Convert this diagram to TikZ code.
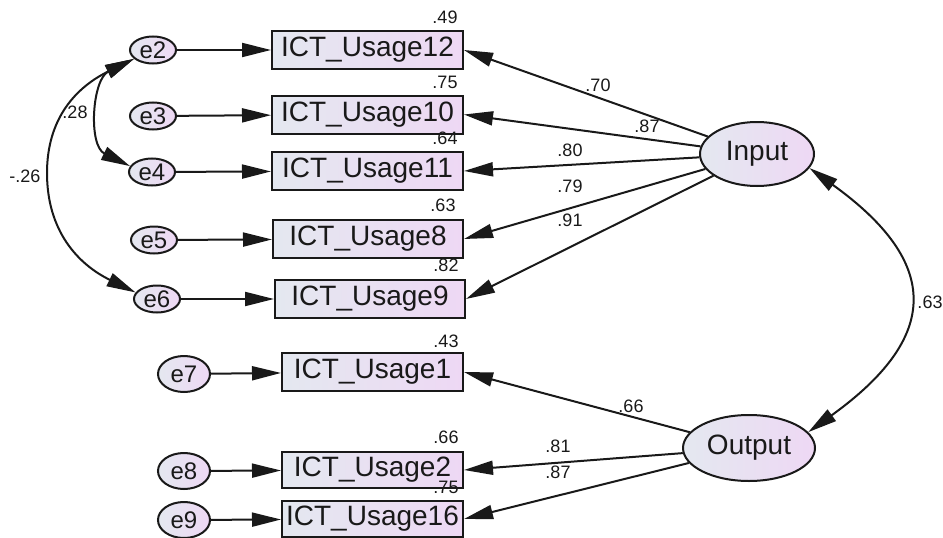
\documentclass[tikz,border=0pt]{standalone}
\usepackage{fontspec}
\setmainfont{Liberation Sans}
\usetikzlibrary{arrows.meta,shapes.geometric}

\definecolor{fillL}{RGB}{228,232,240}
\definecolor{fillR}{RGB}{238,216,244}
\definecolor{ink}{RGB}{25,25,25}

\begin{document}
\begin{tikzpicture}[x=1pt,y=-1pt,
  every node/.style={text=ink},
  obs/.style={draw=ink, line width=2pt, left color=fillL, right color=fillR,
    minimum height=38pt, inner sep=0pt, font=\fontsize{28}{30}\selectfont},
  err/.style={ellipse, draw=ink, line width=2pt, left color=fillL, right color=fillR,
    minimum width=46pt, minimum height=27pt, inner sep=0pt, font=\fontsize{24}{26}\selectfont},
  errbig/.style={err, minimum width=52pt, minimum height=36pt},
  lat/.style={ellipse, draw=ink, line width=2pt, left color=fillL, right color=fillR,
    inner sep=0pt, font=\fontsize{28}{30}\selectfont},
  reg/.style={line width=2pt, draw=ink, -{Triangle[length=29pt,width=14pt]}},
  cov/.style={line width=2pt, draw=ink,
    {Triangle[length=29pt,width=14pt]}-{Triangle[length=29pt,width=14pt]}},
  val/.style={font=\fontsize{18}{20}\selectfont, inner sep=0pt}
]
\useasboundingbox (0,0) rectangle (943,538);

% observed indicators
\node[obs, minimum width=191pt] (u12) at (367.5,50) {ICT\_Usage12};
\node[obs, minimum width=191pt] (u10) at (367.5,114.5) {ICT\_Usage10};
\node[obs, minimum width=191pt] (u11) at (367.5,171) {ICT\_Usage11};
\node[obs, minimum width=190pt] (u8)  at (368,239) {ICT\_Usage8};
\node[obs, minimum width=190pt] (u9)  at (370,299) {ICT\_Usage9};
\node[obs, minimum width=181pt] (u1)  at (372.5,372) {ICT\_Usage1};
\node[obs, minimum width=181pt, minimum height=36pt] (u2)  at (372.5,470) {ICT\_Usage2};
\node[obs, minimum width=181pt, minimum height=36pt] (u16) at (372.5,519) {ICT\_Usage16};

% error terms
\node[err] (e2) at (153,50) {e2};
\node[err] (e3) at (153,116) {e3};
\node[err] (e4) at (152,172) {e4};
\node[err] (e5) at (154,240) {e5};
\node[err] (e6) at (157,299) {e6};
\node[errbig] (e7) at (184,374) {e7};
\node[errbig] (e8) at (184,471) {e8};
\node[errbig] (e9) at (184,520) {e9};

% latent factors
\node[lat, minimum width=114pt, minimum height=64pt] (Input) at (757,154) {Input};
\node[lat, minimum width=132pt, minimum height=66pt] (Output) at (749,448) {Output};

% error paths
\draw[reg] (e2) -- (u12);
\draw[reg] (e3) -- (u10);
\draw[reg] (e4) -- (u11);
\draw[reg] (e5) -- (u8);
\draw[reg] (e6) -- (u9);
\draw[reg] (e7) -- (u1);
\draw[reg] (e8) -- (u2);
\draw[reg] (e9) -- (u16);

% loadings
\draw[reg] (Input) -- (u12.east);
\draw[reg] (Input) -- (u10.east);
\draw[reg] (Input) -- (u11.east);
\draw[reg] (Input) -- (u8.east);
\draw[reg] (Input) -- (u9.east);
\draw[reg] (Output) -- (u1.east);
\draw[reg] (Output) -- (u2.east);
\draw[reg] (Output) -- (u16.east);

% covariances; control points allow for the shortening by the arrow tips
\coordinate (m26) at (47,173);
\draw[cov] (e2.205) .. controls +(-42,20.6) and +(-42,-20.6) .. (e4.165);
\draw[cov] (e2.205) .. controls +(-57.6,28.2) and +(0,-55) .. (m26)
  .. controls +(0,58) and +(-57.6,-28.2) .. (e6.163);
\draw[cov] (Input.-15) .. controls +(132,95) and +(132,-95) .. (Output.15);

% squared multiple correlations
\node[val] (r12) at (445,17) {.49};
\node[val] (r10) at (445,82) {.75};
\node[val] (r11) at (445,138) {.64};
\node[val] (r8)  at (443,205) {.63};
\node[val] (r9)  at (446,265) {.82};
\node[val] (r1)  at (446,341) {.43};
\node[val] (r2)  at (446,437) {.66};
\node[val] (r16) at (446,487) {.75};

% standardized estimates
\node[val] (l12) at (598,85) {.70};
\node[val] (l10) at (647,126) {.87};
\node[val] (l11) at (570,150) {.80};
\node[val] (l8)  at (570,186) {.79};
\node[val] (l9)  at (570,220) {.91};
\node[val] (l1)  at (631,406) {.66};
\node[val] (l2)  at (558,446) {.81};
\node[val] (l16) at (558,472) {.87};
\node[val] (cio) at (930,302) {.63};
\node[val] (c24) at (75,112) {.28};
\node[val] (c26) at (25,176) {-.26};
\end{tikzpicture}
\end{document}
